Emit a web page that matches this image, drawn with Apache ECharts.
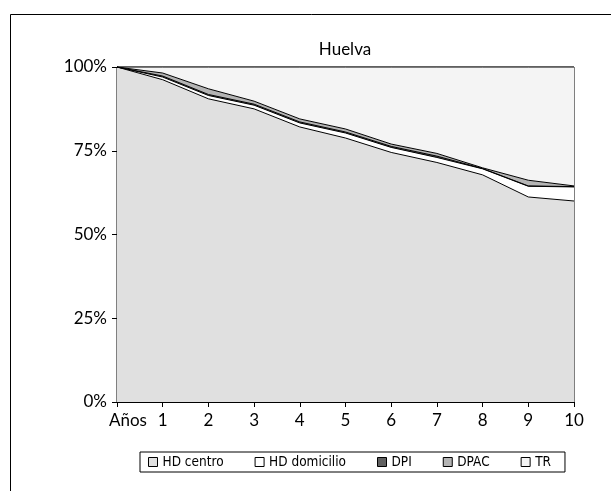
<!DOCTYPE html>
<html>
<head>
<meta charset="utf-8">
<script src="https://cdn.jsdelivr.net/npm/echarts@6/dist/echarts.min.js"></script>
<style>html,body{margin:0;padding:0;background:#fff}#c{width:611px;height:491px}</style>
</head>
<body>
<div id="c"></div>
<script>
var categories = ['Años', '1', '2', '3', '4', '5', '6', '7', '8', '9', '10'];
var yTicks = [0, 25, 50, 75, 100];
var hdCentro    = [100, 96.2, 90.5, 87.5, 82.1, 78.8, 74.5, 71.5, 67.8, 61.2, 60.0];
var hdDomicilio = [0, 0.8, 1.0, 1.1, 1.2, 1.5, 1.5, 1.5, 1.8, 3.2, 4.2];
var dpi         = [0, 0.3, 0.3, 0.3, 0.3, 0.3, 0.3, 0.4, 0.1, 0.1, 0.1];
var dpac        = [0, 0.9, 1.7, 0.9, 0.9, 0.9, 0.7, 0.8, 0.2, 1.7, 0.2];
var tr          = [0, 1.8, 6.5, 10.2, 15.5, 18.5, 23.0, 25.8, 30.1, 33.8, 35.5];
var names = ['HD centro', 'HD domicilio', 'DPI', 'DPAC', 'TR'];
var colors = ['#e0e0e0', '#ffffff', '#606060', '#b4b4b4', '#f4f4f4'];
var dataSets = [hdCentro, hdDomicilio, dpi, dpac, tr];

var chart = echarts.init(document.getElementById('c'), null, {renderer: 'canvas'});
var font = 'Lato, "Open Sans", sans-serif';
chart.setOption({
  animation: false,
  backgroundColor: '#fff',
  graphic: [{
    type: 'rect', left: 8, top: 12, shape: {width: 700, height: 600},
    style: {fill: 'none', stroke: '#000', lineWidth: 1}, z: -10
  }],
  title: {
    text: 'Huelva', left: 340, top: 36, textAlign: 'center',
    textStyle: {fontFamily: font, fontSize: 17, fontWeight: 'normal', color: '#000'}
  },
  grid: {left: 117, right: 37, top: 67, bottom: 89, show: true, borderColor: '#000', borderWidth: 1, backgroundColor: 'transparent'},
  legend: {
    data: names, bottom: 19, left: 140,
    itemWidth: 9, itemHeight: 9, itemGap: 31,
    borderColor: '#000', borderWidth: 1, padding: [3, 14, 3, 8],
    icon: 'rect',
    itemStyle: {borderColor: '#000', borderWidth: 1},
    textStyle: {fontFamily: '"DejaVu Sans Condensed", "Liberation Sans Narrow", sans-serif', fontSize: 13.5, color: '#000'}
  },
  xAxis: {
    type: 'category', data: categories, boundaryGap: false,
    axisLine: {lineStyle: {color: '#000'}},
    axisTick: {show: true, alignWithLabel: true, length: 5, lineStyle: {color: '#000'}},
    axisLabel: {
      fontFamily: font, fontSize: 17, color: '#000', margin: 10, interval: 0,
      formatter: function (v, i) { return i === 0 ? '{a|' + v + '}' : v; },
      rich: {a: {fontFamily: font, fontSize: 17, color: '#000', padding: [0, 0, 0, 22]}}
    },
    splitLine: {show: false}
  },
  yAxis: {
    type: 'value', min: 0, max: 100, interval: 25,
    axisLine: {show: true, lineStyle: {color: '#000'}},
    axisTick: {show: true, length: 5, lineStyle: {color: '#000'}},
    axisLabel: {fontFamily: font, fontSize: 17, color: '#000', margin: 10, formatter: '{value}%'},
    splitLine: {show: false}
  },
  series: dataSets.map(function (d, i) {
    return {
      name: names[i], type: 'line', stack: 'all', data: d,
      symbol: 'none', smooth: false,
      lineStyle: {color: '#000', width: 1},
      itemStyle: {color: colors[i], borderColor: '#000', borderWidth: 1},
      areaStyle: {color: colors[i], opacity: 1}
    };
  })
});
</script>
</body>
</html>
